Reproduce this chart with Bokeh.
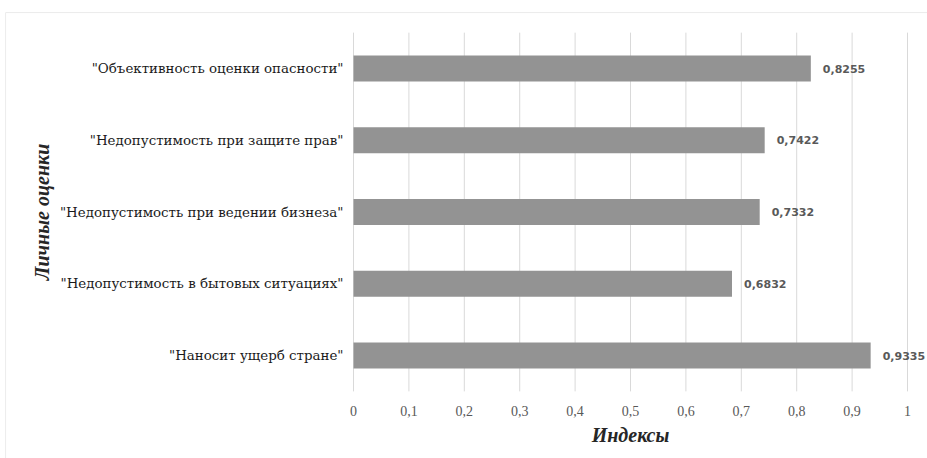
from bokeh.plotting import figure
from bokeh.models import ColumnDataSource
from bokeh.core.properties import value
from bokeh.embed import file_html
from bokeh.resources import INLINE
import math

# data (bottom to top)
categories = [
    '"Наносит ущерб стране"',
    '"Недопустимость в бытовых ситуациях"',
    '"Недопустимость при ведении бизнеза"',
    '"Недопустимость при защите прав"',
    '"Объективность оценки опасности"',
]
values = [0.9335, 0.6832, 0.7332, 0.7422, 0.8255]
value_labels = ["0,9335", "0,6832", "0,7332", "0,7422", "0,8255"]
x_ticks = [0, 0.1, 0.2, 0.3, 0.4, 0.5, 0.6, 0.7, 0.8, 0.9, 1]
x_tick_labels = ["0", "0,1", "0,2", "0,3", "0,4", "0,5", "0,6", "0,7", "0,8", "0,9", "1"]
x_title = "Индексы"
y_title = "Личные оценки"

pos = list(range(len(categories)))
src = ColumnDataSource(dict(pos=pos, cat=categories, val=values, lab=value_labels))
tick_src = ColumnDataSource(dict(x=x_ticks, lab=x_tick_labels))

# frame covers the whole canvas; 0..1 maps to px 353..907, categories at 71.75 px spacing
p = figure(width=927, height=458, x_range=(-0.6372, 1.0361), y_range=(-1.4355, 4.948),
           output_backend="svg", toolbar_location=None,
           min_border=0)
p.axis.visible = False
p.grid.visible = False
p.outline_line_color = None

# faint outer frame of the picture
p.segment(x0=[-0.628, -0.628], y0=[4.78, 4.78], x1=[1.05, -0.628], y1=[4.78, -1.5],
          line_color="#ececec", line_width=1)

# vertical grid lines
p.segment(x0="x", x1="x", y0=-0.5, y1=4.5, source=tick_src,
          line_color="#d9d9d9", line_width=1)

# bars
p.hbar(y="pos", right="val", left=0, height=0.36, source=src,
       fill_color="#939393", line_color=None)

# value labels
p.text(x="val", y="pos", text="lab", source=src, x_offset=12,
       text_baseline="middle", text_align="left",
       text_font=value("DejaVu Sans"), text_font_style="bold",
       text_font_size="11px", text_color="#595959")

# category labels
p.text(x=0, y="pos", text="cat", source=src, x_offset=-10,
       text_baseline="middle", text_align="right",
       text_font=value("DejaVu Serif"),
       text_font_size="13.4px", text_color="#1a1a1a")

# x tick labels
p.text(x="x", y=-0.767, text="lab", source=tick_src,
       text_baseline="middle", text_align="center",
       text_font=value("Liberation Serif"),
       text_font_size="14px", text_color="#595959")

# axis titles
p.text(x=[0.5], y=[-1.101], text=[x_title],
       text_baseline="middle", text_align="center",
       text_font=value("Liberation Serif"), text_font_style="bold italic",
       text_font_size="20px", text_color="#262626")
p.text(x=[-0.562], y=[2], text=[y_title], angle=math.pi / 2,
       text_baseline="middle", text_align="center",
       text_font=value("Liberation Serif"), text_font_style="bold italic",
       text_font_size="20px", text_color="#262626")

open("out.html", "w").write(file_html(p, INLINE))
